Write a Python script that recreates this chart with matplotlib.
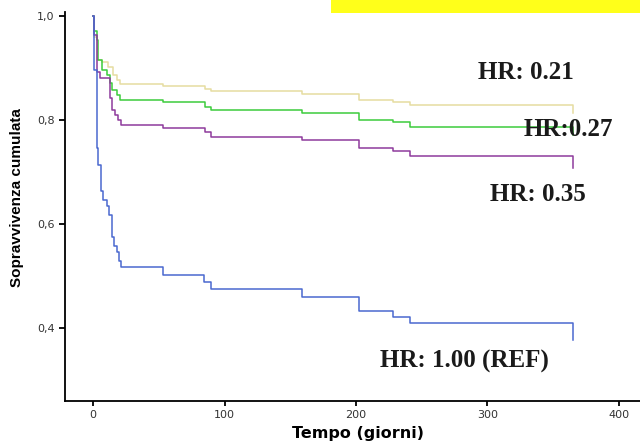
import matplotlib
matplotlib.use('Agg')
import matplotlib.pyplot as plt
from matplotlib.patches import Rectangle

# Kaplan-Meier steps (days, cumulative survival)
t_yellow = [0, 0.75, 3.3, 6.6, 11.6, 15.4, 18, 20.5, 53, 85, 89.5, 159, 202, 228, 241, 365]
s_yellow = [1.0, 0.96, 0.915, 0.912, 0.902, 0.887, 0.877, 0.869, 0.865, 0.859, 0.855, 0.850, 0.839, 0.834, 0.828, 0.814]

t_green = [0, 0.75, 2.8, 4, 6.6, 10.4, 12.9, 14.7, 18, 20.5, 53, 85, 89.5, 159, 202, 228, 241, 365]
s_green = [1.0, 0.97, 0.953, 0.915, 0.896, 0.887, 0.871, 0.858, 0.848, 0.839, 0.834, 0.825, 0.820, 0.813, 0.800, 0.796, 0.786, 0.772]

t_purple = [0, 0.75, 3.3, 5.3, 12.9, 14.2, 16.7, 19.2, 21.3, 53, 85, 89.5, 159, 202, 228, 241, 365]
s_purple = [1.0, 0.963, 0.893, 0.881, 0.843, 0.820, 0.810, 0.800, 0.791, 0.785, 0.777, 0.768, 0.762, 0.746, 0.740, 0.730, 0.708]

t_blue = [0, 0.75, 2.8, 4, 6.1, 7.9, 10.4, 12.4, 14.2, 16.2, 18.5, 20, 21.3, 53.5, 84.6, 89.5, 159, 202, 228, 241, 365]
s_blue = [1.0, 0.896, 0.747, 0.714, 0.663, 0.647, 0.634, 0.617, 0.575, 0.559, 0.546, 0.529, 0.517, 0.502, 0.489, 0.475, 0.461, 0.433, 0.421, 0.410, 0.377]

hr_labels = ['HR: 0.21', 'HR:0.27', 'HR: 0.35', 'HR: 1.00 (REF)']
hr_pos = [(292.8, 0.892), (327.8, 0.781), (301.9, 0.657), (218.3, 0.337)]

fig = plt.figure(figsize=(6.4, 4.46), dpi=100)
ax = fig.add_axes([0.1016, 0.1009, 0.8984, 0.8721])

# yellow highlight strip at the top
fig.patches.append(Rectangle((331/640, 1 - 13/446), 1 - 331/640, 13/446,
                             transform=fig.transFigure, facecolor='#FFFF1A',
                             edgecolor='none', zorder=0))

ax.step(t_yellow, s_yellow, where='post', color='#E6DDA0', lw=1.1)
ax.step(t_green, s_green, where='post', color='#3CCB3C', lw=1.1)
ax.step(t_purple, s_purple, where='post', color='#8E3A9C', lw=1.1)
ax.step(t_blue, s_blue, where='post', color='#4A68CF', lw=1.1)

for lab, (x, y) in zip(hr_labels, hr_pos):
    ax.text(x, y, lab, ha='left', va='center', fontsize=18, fontweight='bold',
            family='Liberation Serif', color='#1a1a1a')

ax.set_xlim(-21.3, 416)
ax.set_ylim(0.2607, 1.0071)
ax.set_xticks([0, 100, 200, 300, 400])
ax.set_yticks([0.4, 0.6, 0.8, 1.0])
ax.set_yticklabels(['0,4', '0,6', '0,8', '1,0'])
ax.spines['top'].set_visible(False)
ax.spines['right'].set_visible(False)
for sp in ['left', 'bottom']:
    ax.spines[sp].set_linewidth(1.3)
ax.tick_params(axis='x', direction='out', length=3.5, width=1.3, pad=3,
               labelsize=8, labelcolor='#333333')
ax.tick_params(axis='y', direction='out', length=4.5, width=1.3, pad=3,
               labelsize=8, labelcolor='#333333')

ax.set_xlabel('Tempo (giorni)', fontsize=11.5, fontweight='bold')
ax.xaxis.set_label_coords(0.51, -0.065)
ax.set_ylabel('Sopravvivenza cumulata', fontsize=11, fontweight='bold',
              family=['Liberation Sans Narrow', 'Liberation Sans'])
ax.yaxis.set_label_coords(-0.071, 0.523)

fig.savefig('out.png', dpi=100)
